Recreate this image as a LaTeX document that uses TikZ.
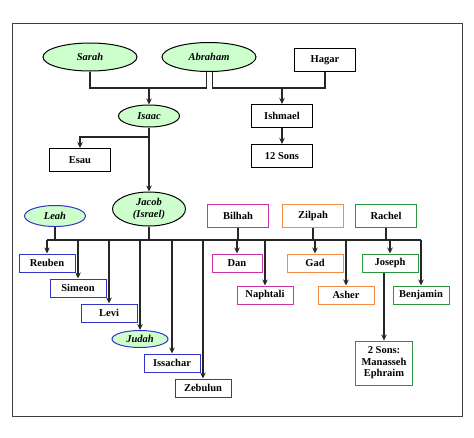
\documentclass[tikz,border=0pt]{standalone}
\usepackage{fontspec}
\setmainfont{Liberation Serif}
\usepackage{tikz}
\usetikzlibrary{arrows,arrows.meta,shapes,positioning}
\usepackage{xcolor}
\definecolor{ftgreen}{RGB}{204,255,204}
\definecolor{ftblue}{RGB}{51,51,204}
\definecolor{ftmagenta}{RGB}{204,51,170}
\definecolor{ftorange}{RGB}{240,140,70}
\definecolor{ftdkgreen}{RGB}{40,150,60}
\tikzstyle{arrow} = [line width=1.1pt,->,>={Stealth[length=6pt,width=5.5pt]},color=black!85]
\tikzstyle{link} = [line width=1.1pt,color=black!85]
\tikzstyle{person} = [rectangle, minimum width=61pt, minimum height=23pt, text centered, draw=black, fill=white, line width=1pt, font=\fontsize{10.5}{11.5}\selectfont\bfseries]
\tikzstyle{son} = [person, minimum width=56pt, minimum height=18pt, draw=ftblue]
\tikzstyle{patriarch} = [ellipse, inner sep=0pt, text centered, draw=black, fill=ftgreen, line width=1pt, font=\fontsize{10.5}{11.5}\selectfont\bfseries\itshape]

\begin{document}
\begin{tikzpicture}[x=1pt, y=-1pt]
\useasboundingbox (0,0) rectangle (474,437);
\draw[line width=1pt, black!75] (12,23) rectangle (462,416);

% First generation
\node (sarah) [patriarch, minimum width=94pt, minimum height=28pt] at (90,57) {Sarah};
\node (abraham) [patriarch, minimum width=94pt, minimum height=29pt] at (209,57) {Abraham};
\node (hagar) [person] at (325,60) {Hagar};

% Second generation
\node (isaac) [patriarch, minimum width=61pt, minimum height=22pt] at (149,116) {Isaac};
\node (ishmael) [person] at (282,116) {Ishmael};
\node (twelve) [person] at (282,156) {12 Sons};
\node (esau) [person] at (80,160) {Esau};

\coordinate (sajoin) at (149,88);
\coordinate (hajoin) at (282,88);
\draw[link] (sarah.south) |- (sajoin) -| (abraham.262);
\draw[link] (abraham.282) |- (hajoin) -| (hagar.south);
\draw[arrow, line width=1.8pt] (sajoin) -- (isaac);
\draw[arrow, line width=1.8pt] (hajoin) -- (ishmael);
\draw[arrow] (ishmael) -- (twelve);

% Jacob and his wives
\node (jacob) [patriarch, minimum width=73pt, minimum height=34pt, align=center] at (149,209) {Jacob\\(Israel)};
\node (leah) [patriarch, draw=ftblue, minimum width=61pt, minimum height=21pt] at (55,216) {Leah};
\node (bilhah) [person, draw=ftmagenta] at (238,216) {Bilhah};
\node (zilpah) [person, draw=ftorange] at (313,216) {Zilpah};
\node (rachel) [person, draw=ftdkgreen] at (386,216) {Rachel};

\coordinate (isjoin) at (149,137);
\draw[arrow] (isaac) -- (jacob);
\draw[arrow] (isjoin) -| (esau);

% Twelve sons
\node (reuben) [son] at (47,263) {Reuben};
\node (simeon) [son] at (78,288) {Simeon};
\node (levi) [son] at (109,313) {Levi};
\node (judah) [patriarch, draw=ftblue, minimum width=56pt, minimum height=17pt] at (140,339) {Judah};
\node (issachar) [son] at (172,363) {Issachar};
\node (zebulun) [son] at (203,388) {Zebulun};
\node (dan) [son, draw=ftmagenta, minimum width=50pt] at (237,263) {Dan};
\node (naphtali) [son, draw=ftmagenta] at (265,295) {Naphtali};
\node (gad) [son, draw=ftorange] at (315,263) {Gad};
\node (asher) [son, draw=ftorange] at (346,295) {Asher};
\node (joseph) [son, draw=ftdkgreen] at (390,263) {Joseph};
\node (benjamin) [son, draw=ftdkgreen] at (421,295) {Benjamin};
\node (twosons) [son, draw=ftdkgreen, minimum width=57pt, minimum height=44pt, align=center] at (384,363) {2 Sons:\\Manasseh\\Ephraim};

\coordinate (barL) at (47,240);
\coordinate (barR) at (421,240);
\draw[link, line width=1.5pt] (barL) -- (barR);
\foreach \p in {leah,jacob,bilhah,zilpah,rachel}
  \draw[link] (\p) -- (\p |- barL);
\foreach \s in {reuben,simeon,levi,judah,issachar,zebulun,dan,naphtali,gad,asher,joseph,benjamin}
  \draw[arrow] (\s |- barL) -- (\s);
\draw[arrow] (twosons.north |- joseph.south) -- (twosons);
\end{tikzpicture}
\end{document}
